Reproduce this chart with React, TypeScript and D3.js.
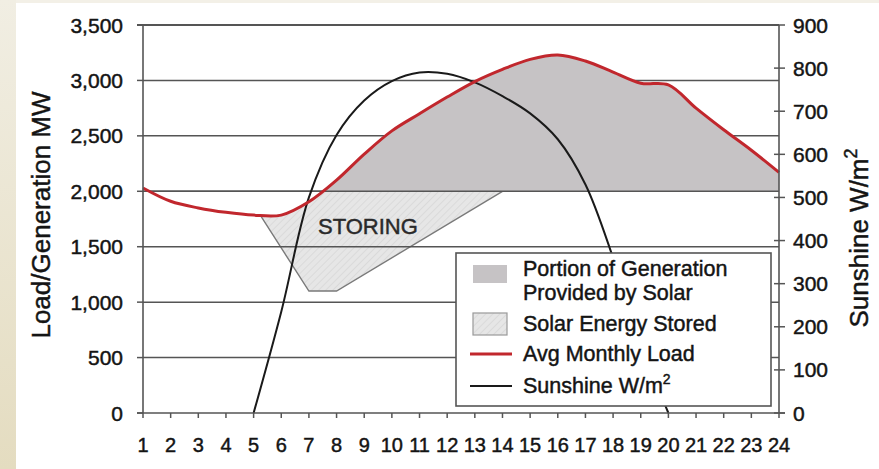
import React from "react";
import * as d3 from "d3";

const hours = d3.range(1, 25);
const loadMW = [2030, 1910, 1850, 1810, 1785, 1785, 1905, 2100, 2335, 2545, 2700, 2850, 2990, 3100, 3190, 3230, 3175, 3075, 2975, 2960, 2750, 2555, 2370, 2170];
const sunHours = [5, 6, 7, 8, 9, 10, 11, 12, 13, 14, 15, 16, 17, 18, 19, 20];
const sunshineW = [0, 235, 500, 645, 725, 770, 790, 787, 767, 735, 695, 635, 530, 360, 160, 0];
const storedHours = [5.2, 7, 8, 14];
const storedMW = [1800, 1100, 1100, 2000];
const solarBaseMW = 2000;
const leftTicks = [0, 500, 1000, 1500, 2000, 2500, 3000, 3500];
const rightTicks = [0, 100, 200, 300, 400, 500, 600, 700, 800, 900];
const gridTicks = [500, 1000, 1500, 2000, 2500, 3000];
const leftTitle = "Load/Generation MW";
const rightTitle = "Sunshine W/m";
const storingLabel = "STORING";
const legendSolar = ["Portion of Generation", "Provided by Solar"];
const legendStored = "Solar Energy Stored";
const legendLoad = "Avg Monthly Load";
const legendSun = "Sunshine W/m";

const FONT = "'Liberation Sans', Arial, Helvetica, sans-serif";
const AX = "#555";
const TXT = "#141414";

export default function App() {
  const x = d3.scaleLinear().domain([1, 24]).range([143, 779]);
  const yL = d3.scaleLinear().domain([0, 3500]).range([413, 25]);
  const yR = d3.scaleLinear().domain([0, 900]).range([413, 25]);
  const curve = d3.curveCatmullRom.alpha(0.5);

  const loadData = hours.map((h, i) => ({ h, v: loadMW[i] }));
  const sunData = sunHours.map((h, i) => ({ h, v: sunshineW[i] }));

  const loadLine = d3.line<any>().x(d => x(d.h)).y(d => yL(d.v)).curve(curve)(loadData) || "";
  const sunLine = d3.line<any>().x(d => x(d.h)).y(d => yR(d.v)).curve(curve)(sunData) || "";
  const solarArea = d3.area<any>().x(d => x(d.h)).y0(yL(solarBaseMW)).y1(d => yL(d.v)).curve(curve)(loadData) || "";
  const belowLoad = d3.area<any>().x(d => x(d.h)).y0(yL(0)).y1(d => yL(d.v)).curve(curve)(loadData) || "";

  const storedPts: [number, number][] = storedHours.map((h, i) => [x(h), yL(storedMW[i])]);
  const storedPoly = [
    ...storedPts,
    [x(storedHours[storedHours.length - 1]), yL(solarBaseMW)],
    [x(storedHours[0]), yL(solarBaseMW)],
  ] as [number, number][];
  const storedPath = "M" + storedPoly.map(p => p[0] + "," + p[1]).join("L") + "Z";
  const storedEdge = d3.line()(storedPts) || "";

  const tx = { fill: TXT, stroke: TXT, strokeWidth: 0.45 };

  return (
    <svg width={879} height={469} style={{ position: "absolute", left: 0, top: 0, display: "block" }} fontFamily={FONT}>
      <defs>
        <linearGradient id="bgL" x1="0" y1="0" x2="0" y2="1">
          <stop offset="0" stopColor="#f1eee3" />
          <stop offset="1" stopColor="#e4dcc0" />
        </linearGradient>
        <pattern id="hatch" width="5" height="5" patternUnits="userSpaceOnUse" patternTransform="rotate(45)">
          <rect width="5" height="5" fill="#e6e6e6" />
          <line x1="0" y1="0" x2="0" y2="5" stroke="#d2d2d2" strokeWidth="1.2" />
        </pattern>
        <clipPath id="above2000">
          <rect x={143} y={25} width={636} height={yL(solarBaseMW) - 25} />
        </clipPath>
        <clipPath id="belowLoad">
          <path d={belowLoad} />
        </clipPath>
      </defs>

      <rect x={0} y={0} width={879} height={469} fill="#ffffff" />
      <rect x={0} y={0} width={879} height={3} fill="#f3f0e7" />
      <rect x={0} y={0} width={16} height={469} fill="url(#bgL)" />

      {/* stored energy */}
      <g clipPath="url(#belowLoad)">
        <path d={storedPath} fill="url(#hatch)" />
        <path d={storedEdge} fill="none" stroke="#7a7a7a" strokeWidth={1.4} />
      </g>

      {/* gridlines */}
      {gridTicks.map(t => (
        <line key={t} x1={143} x2={779} y1={yL(t)} y2={yL(t)} stroke={AX} strokeWidth={1.5} />
      ))}

      {/* solar portion */}
      <path d={solarArea} fill="#c6c3c5" clipPath="url(#above2000)" />
      <line x1={143} x2={779} y1={yL(solarBaseMW)} y2={yL(solarBaseMW)} stroke={AX} strokeWidth={1.5} />

      <text x={318} y={234} fontSize={22} {...tx} fill="#2a2a2a" stroke="#2a2a2a">{storingLabel}</text>

      {/* sunshine */}
      <path d={sunLine} fill="none" stroke="#1a1a1a" strokeWidth={2} />
      {/* load */}
      <path d={loadLine} fill="none" stroke="#c1272d" strokeWidth={3} />

      {/* frame & axes */}
      <line x1={137} x2={779} y1={yL(3500)} y2={yL(3500)} stroke={AX} strokeWidth={2} />
      <line x1={143} x2={143} y1={25} y2={413} stroke={AX} strokeWidth={1.6} />
      <line x1={779} x2={779} y1={25} y2={413} stroke={AX} strokeWidth={1.6} />
      <line x1={137} x2={785} y1={413} y2={413} stroke={AX} strokeWidth={1.6} />

      {leftTicks.map(t => (
        <g key={"l" + t}>
          <line x1={137} x2={143} y1={yL(t)} y2={yL(t)} stroke={AX} strokeWidth={1.5} />
          <text x={123} y={yL(t) + 7.5} fontSize={21} textAnchor="end" {...tx}>{d3.format(",")(t)}</text>
        </g>
      ))}
      {rightTicks.map(t => (
        <g key={"r" + t}>
          <line x1={774} x2={785} y1={yR(t)} y2={yR(t)} stroke={AX} strokeWidth={1.5} />
          <text x={793} y={yR(t) + 7.5} fontSize={21} {...tx}>{t}</text>
        </g>
      ))}
      {hours.map(h => (
        <g key={"b" + h}>
          <line x1={x(h)} x2={x(h)} y1={413} y2={418} stroke={AX} strokeWidth={1.5} />
          <text x={x(h)} y={452} fontSize={20} textAnchor="middle" {...tx}>{h}</text>
        </g>
      ))}

      <text transform={`translate(50,215) rotate(-90)`} fontSize={26} textAnchor="middle" {...tx}>{leftTitle}</text>
      <text transform={`translate(868,238) rotate(-90)`} fontSize={26} textAnchor="middle" {...tx}>
        {rightTitle}
        <tspan fontSize={18} dy={-11}>2</tspan>
      </text>

      {/* legend */}
      <rect x={456} y={253} width={315} height={153} fill="#fff" stroke={AX} strokeWidth={1.6} />
      <rect x={473} y={265} width={34} height={18} fill="#c6c3c5" />
      <text x={523} y={276} fontSize={21.5} {...tx}>{legendSolar[0]}</text>
      <text x={523} y={300} fontSize={21.5} {...tx}>{legendSolar[1]}</text>
      <rect x={473} y={313} width={34} height={22} fill="url(#hatch)" stroke="#999" strokeWidth={1.2} />
      <text x={523} y={331} fontSize={21.5} {...tx}>{legendStored}</text>
      <line x1={470} x2={512} y1={354} y2={354} stroke="#c1272d" strokeWidth={3} />
      <text x={523} y={361} fontSize={21.5} {...tx}>{legendLoad}</text>
      <line x1={470} x2={512} y1={386} y2={386} stroke="#1a1a1a" strokeWidth={2} />
      <text x={523} y={393} fontSize={21.5} {...tx}>
        {legendSun}
        <tspan fontSize={14} dy={-9}>2</tspan>
      </text>
    </svg>
  );
}
